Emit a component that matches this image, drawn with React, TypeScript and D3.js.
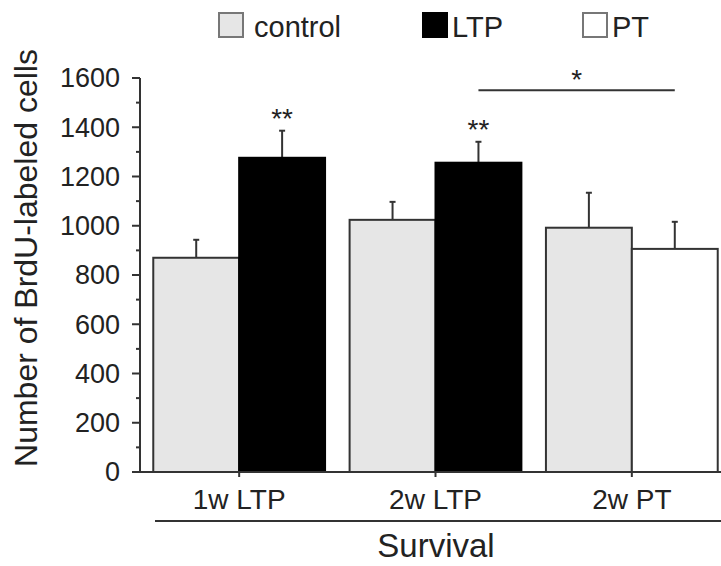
import React from 'react';
import * as d3 from 'd3';

// survival groups on the x axis
const categories = ['1w LTP', '2w LTP', '2w PT'];
// second bar of each group: which treatment it is
const treatments = ['LTP', 'LTP', 'PT'];

const controlMeans = [870, 1024, 992];
const controlErrors = [73, 73, 142];
const treatMeans = [1276, 1256, 906];
const treatErrors = [110, 85, 110];

// stars above the treated bars
const treatStars = ['**', '**', ''];

// bracket between 2w LTP and 2w PT
const bracketValue = 1550;
const bracketFrom = '2w LTP';
const bracketTo = '2w PT';

const legendKeys = ['control', 'LTP', 'PT'];
const yTicks = [0, 200, 400, 600, 800, 1000, 1200, 1400, 1600];
const yMinorTicks = [100, 300, 500, 700, 900, 1100, 1300, 1500];

const width = 721;
const height = 566;
const font = '"Liberation Sans", Arial, Helvetica, sans-serif';
const ink = '#222';
const stroke = '#333';

const fills: Record<string, string> = {
  control: '#e6e6e6',
  LTP: '#000',
  PT: '#fff',
};

export default function App() {
  const axisX = 140;
  const baseY = 472;

  const y = d3.scaleLinear().domain([0, 1600]).range([baseY, 78]);

  const x = d3.scaleBand()
    .domain(categories)
    .range([141, 730])
    .paddingInner(0.125)
    .paddingOuter(0.0625);

  const inner = d3.scaleBand()
    .domain(['control', 'treat'])
    .range([0, x.bandwidth()]);

  const bars = categories.flatMap((c, i) => [
    { cat: c, slot: 'control', kind: 'control', mean: controlMeans[i], err: controlErrors[i], stars: '' },
    { cat: c, slot: 'treat', kind: treatments[i], mean: treatMeans[i], err: treatErrors[i], stars: treatStars[i] },
  ]);

  const barCenter = (cat: string, slot: string) =>
    (x(cat) as number) + (inner(slot) as number) + inner.bandwidth() / 2;

  const bx1 = barCenter(bracketFrom, 'treat');
  const bx2 = barCenter(bracketTo, 'treat');

  // legend layout (box left, text left)
  const legendX = [218, 422, 582];

  return (
    <svg
      width={width}
      height={height}
      style={{ position: 'absolute', left: 0, top: 0, background: '#fff' }}
      fontFamily={font}
    >
      {/* legend */}
      {legendKeys.map((k, i) => (
        <g key={k} transform={`translate(${legendX[i]},12)`}>
          <rect x={1} y={1} width={24} height={24} fill={fills[k]} stroke={k === 'LTP' ? '#000' : '#777'} strokeWidth={2} />
          <text x={k === 'control' ? 36 : 30} y={25} fontSize={29} fill={ink}>{k}</text>
        </g>
      ))}

      {/* bars */}
      {bars.map((b) => {
        const x0 = (x(b.cat) as number) + (inner(b.slot) as number);
        const w = inner.bandwidth();
        const cx = x0 + w / 2;
        const top = y(b.mean);
        const errTop = y(b.mean + b.err);
        return (
          <g key={b.cat + b.slot}>
            <line x1={cx} x2={cx} y1={top} y2={errTop} stroke={stroke} strokeWidth={2} />
            <line x1={cx - 3} x2={cx + 3} y1={errTop} y2={errTop} stroke={stroke} strokeWidth={2} />
            <rect x={x0} y={top} width={w} height={baseY - top} fill={fills[b.kind]} stroke={b.kind === 'LTP' ? '#000' : stroke} strokeWidth={2} />
            {b.stars && (
              <text x={cx} y={errTop - 3} textAnchor="middle" fontSize={28} fill={ink}>{b.stars}</text>
            )}
          </g>
        );
      })}

      {/* significance bracket */}
      <line x1={bx1} x2={bx2} y1={y(bracketValue)} y2={y(bracketValue)} stroke={stroke} strokeWidth={2} />
      <text x={(bx1 + bx2) / 2} y={y(bracketValue) - 1} textAnchor="middle" fontSize={28} fill={ink}>*</text>

      {/* y axis */}
      <line x1={axisX} x2={axisX} y1={y(1600)} y2={baseY} stroke={stroke} strokeWidth={2} />
      {yTicks.map((t) => (
        <g key={t}>
          <line x1={axisX - 8} x2={axisX} y1={y(t)} y2={y(t)} stroke={stroke} strokeWidth={2} />
          <text x={axisX - 20} y={y(t)} dy="0.35em" textAnchor="end" fontSize={27} fill={ink}>{t}</text>
        </g>
      ))}
      {yMinorTicks.map((t) => (
        <line key={t} x1={axisX - 4} x2={axisX} y1={y(t)} y2={y(t)} stroke={stroke} strokeWidth={2} />
      ))}
      <text
        transform={`translate(37,258) rotate(-90)`}
        textAnchor="middle"
        fontSize={32}
        fill={ink}
      >
        Number of BrdU-labeled cells
      </text>

      {/* x axis */}
      <line x1={axisX} x2={width} y1={baseY} y2={baseY} stroke={stroke} strokeWidth={2} />
      {categories.map((c) => {
        const cx = (x(c) as number) + x.bandwidth() / 2;
        return (
          <g key={c}>
            <line x1={cx} x2={cx} y1={baseY} y2={baseY + 5} stroke={stroke} strokeWidth={2} />
            <text x={cx} y={509} textAnchor="middle" fontSize={28} fill={ink}>{c}</text>
          </g>
        );
      })}
      <line x1={155} x2={width} y1={521} y2={521} stroke={stroke} strokeWidth={2} />
      <text x={436} y={557} textAnchor="middle" fontSize={33} fill={ink}>Survival</text>
    </svg>
  );
}
